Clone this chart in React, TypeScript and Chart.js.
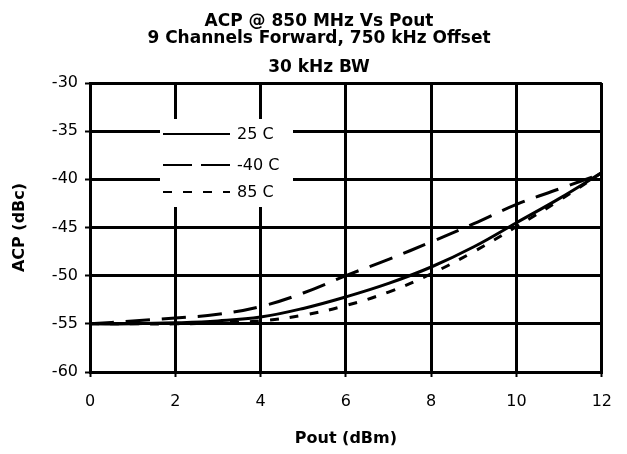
import React, { useEffect, useRef } from "react";
import { Chart, registerables } from "chart.js";

Chart.register(...registerables);

const pout = [0, 1, 2, 3, 4, 5, 6, 7, 8, 9, 10, 11, 12];
const acp25C = [-55, -55, -54.9, -54.7, -54.3, -53.4, -52.2, -50.8, -49.1, -47.0, -44.5, -42.0, -39.3];
const acpMinus40C = [-55, -54.7, -54.4, -54.0, -53.2, -51.8, -50.0, -48.3, -46.5, -44.6, -42.6, -41.0, -39.4];
const acp85C = [-55, -55, -55, -54.9, -54.7, -54.1, -53.1, -51.7, -49.8, -47.5, -44.9, -42.2, -39.3];
const seriesLabels = ["25 C", "-40 C", "85 C"];
const legendDashes = [[], [29, 9], [9, 11]];
const titleLines = ["ACP @ 850 MHz Vs Pout", "9 Channels Forward, 750 kHz Offset"];
const subtitleText = "30 kHz BW";
const xTitle = "Pout (dBm)";
const yTitle = "ACP (dBc)";

const FONT = "'DejaVu Sans', 'Liberation Sans', Arial, sans-serif";

const insideLegend = {
  id: "insideLegend",
  afterDatasetsDraw(chart: any) {
    const { ctx, chartArea } = chart;
    const left = chartArea.left + 70;
    const top = chartArea.top + 36;
    const w = 133;
    const h = 88;
    ctx.save();
    ctx.fillStyle = "#ffffff";
    ctx.fillRect(left, top, w, h);
    const rows = [15, 46, 73];
    chart.data.datasets.forEach((ds: any, i: number) => {
      const y = top + rows[i];
      ctx.beginPath();
      ctx.setLineDash(legendDashes[i]);
      ctx.lineWidth = 2;
      ctx.strokeStyle = "#000";
      ctx.moveTo(left + 3, y);
      ctx.lineTo(left + 70, y);
      ctx.stroke();
      ctx.setLineDash([]);
      ctx.fillStyle = "#000";
      ctx.font = `16px ${FONT}`;
      ctx.textAlign = "left";
      ctx.textBaseline = "middle";
      ctx.fillText(ds.label, left + 77, y + 1);
    });
    ctx.restore();
  },
};

export default function App() {
  const ref = useRef<HTMLCanvasElement | null>(null);
  useEffect(() => {
    if (!ref.current) return;
    const mk = (label: string, data: number[], dash: number[]) => ({
      label,
      data: pout.map((x, i) => ({ x, y: data[i] })),
      borderColor: "#000",
      backgroundColor: "#000",
      borderWidth: 3,
      borderDash: dash,
      pointRadius: 0,
      tension: 0.4,
      fill: false,
    });
    const chart = new Chart(ref.current, {
      type: "line",
      data: {
        datasets: [
          mk(seriesLabels[0], acp25C, []),
          mk(seriesLabels[1], acpMinus40C, [24, 12]),
          mk(seriesLabels[2], acp85C, [9, 11]),
        ],
      },
      options: {
        animation: false,
        responsive: true,
        maintainAspectRatio: false,
        layout: { padding: { left: 27, right: 16, top: 0, bottom: 0 } },
        plugins: {
          legend: { display: false },
          tooltip: { enabled: false },
          title: {
            display: true,
            text: titleLines,
            color: "#000",
            font: { family: FONT, size: 17, weight: "bold", lineHeight: 1.0 },
            padding: { top: 13, bottom: 12 },
          },
          subtitle: {
            display: true,
            text: subtitleText,
            color: "#000",
            font: { family: FONT, size: 17, weight: "bold", lineHeight: 1.0 },
            padding: { top: 0, bottom: 7 },
          },
        },
        scales: {
          x: {
            type: "linear",
            min: 0,
            max: 12,
            afterFit: (s: any) => { s.height = 82; },
            ticks: { stepSize: 2, color: "#000", font: { family: FONT, size: 16 }, padding: 15 },
            grid: { color: "#000", lineWidth: 3, tickLength: 5, tickWidth: 2, tickColor: "#000" },
            border: { color: "#000", width: 3 },
            title: { display: true, text: xTitle, color: "#000", font: { family: FONT, size: 16, weight: "bold" }, padding: { top: 0, bottom: 6 } },
          },
          y: {
            type: "linear",
            min: -60,
            max: -30,
            afterFit: (s: any) => { s.width = 63; },
            ticks: { stepSize: 5, color: "#000", font: { family: FONT, size: 16 }, padding: 7 },
            grid: { color: "#000", lineWidth: 3, tickLength: 5, tickWidth: 2, tickColor: "#000" },
            border: { color: "#000", width: 3 },
            title: { display: true, text: yTitle, color: "#000", font: { family: FONT, size: 16, weight: "bold" }, padding: { top: -17, bottom: 0 } },
          },
        },
      },
      plugins: [insideLegend],
    });
    return () => chart.destroy();
  }, []);
  return (
    <div style={{ position: "absolute", left: 0, top: 0, width: 627, height: 454, background: "#fff" }}>
      <canvas ref={ref} />
    </div>
  );
}
